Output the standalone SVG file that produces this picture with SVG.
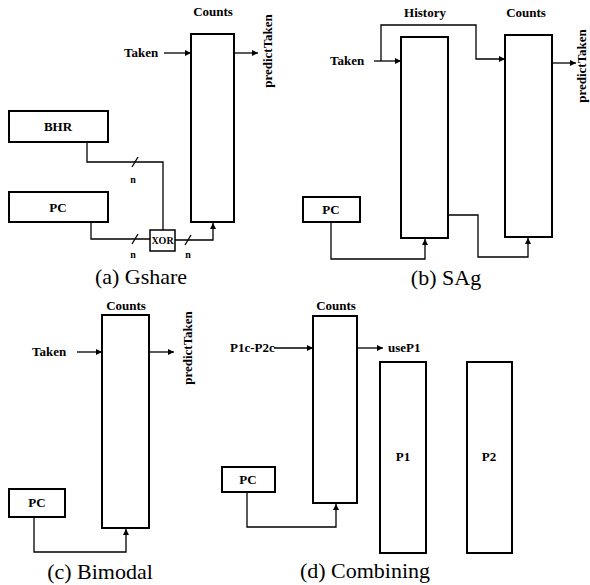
<svg xmlns="http://www.w3.org/2000/svg" width="590" height="585" viewBox="0 0 590 585">
<defs>
<marker id="ah" viewBox="0 0 10 10" refX="10" refY="5" markerWidth="8" markerHeight="6" markerUnits="userSpaceOnUse" orient="auto">
<path d="M0,0 L10,5 L0,10 Z" fill="#000"/>
</marker>
</defs>
<style>
.box{fill:#fff;stroke:#000;stroke-width:2}
.sbox{fill:#fff;stroke:#000;stroke-width:1.5}
.wire{fill:none;stroke:#000;stroke-width:1.3}
.arr{fill:none;stroke:#000;stroke-width:1.3;marker-end:url(#ah)}
.lbl{font-family:"Liberation Serif","Times New Roman",serif;font-weight:bold;font-size:13px;fill:#000}
.sm{font-family:"Liberation Serif","Times New Roman",serif;font-weight:bold;font-size:10px;fill:#000}
.cap{font-family:"Liberation Serif","Times New Roman",serif;font-size:22px;fill:#000}
</style>
<rect width="590" height="585" fill="#fff"/>

<!-- Panel (a) Gshare -->
<g id="a-counts">
<rect class="box" x="191" y="34" width="43" height="188"/>
<text class="lbl" x="213" y="16" text-anchor="middle">Counts</text>
</g>
<g id="a-bhr">
<rect class="box" x="9" y="111" width="99" height="31"/>
<text class="lbl" x="58" y="131" text-anchor="middle">BHR</text>
</g>
<g id="a-pc">
<rect class="box" x="9" y="192" width="99" height="30"/>
<text class="lbl" x="58" y="212" text-anchor="middle">PC</text>
</g>
<g id="a-xor">
<rect class="sbox" x="150" y="230" width="25" height="21"/>
<text class="sm" x="162.5" y="244" text-anchor="middle" font-size="9">XOR</text>
</g>
<g id="a-taken"><text class="lbl" x="124" y="57">Taken</text></g>
<g id="a-pred"><text class="lbl" transform="translate(272,51) rotate(-90)" text-anchor="middle">predictTaken</text></g>
<g id="a-caption"><text class="cap" x="141" y="284" text-anchor="middle">(a) Gshare</text></g>

<!-- Panel (b) SAg -->
<g id="b-history">
<rect class="box" x="401" y="37" width="47" height="201"/>
<text class="lbl" x="425" y="17" text-anchor="middle">History</text>
</g>
<g id="b-counts">
<rect class="box" x="505" y="35" width="47" height="202"/>
<text class="lbl" x="526" y="17" text-anchor="middle">Counts</text>
</g>
<g id="b-pc">
<rect class="box" x="303" y="197" width="57" height="25"/>
<text class="lbl" x="331" y="214" text-anchor="middle">PC</text>
</g>
<g id="b-taken"><text class="lbl" x="330" y="65">Taken</text></g>
<g id="b-pred"><text class="lbl" transform="translate(586,66) rotate(-90)" text-anchor="middle" font-size="12">predictTaken</text></g>
<g id="b-caption"><text class="cap" x="446" y="285" text-anchor="middle">(b) SAg</text></g>

<!-- Panel (c) Bimodal -->
<g id="c-counts">
<rect class="box" x="102" y="315" width="47" height="213"/>
<text class="lbl" x="126" y="310" text-anchor="middle">Counts</text>
</g>
<g id="c-pc">
<rect class="box" x="9" y="489" width="56" height="28"/>
<text class="lbl" x="37" y="507" text-anchor="middle">PC</text>
</g>
<g id="c-taken"><text class="lbl" x="32" y="356">Taken</text></g>
<g id="c-pred"><text class="lbl" transform="translate(192,348) rotate(-90)" text-anchor="middle">predictTaken</text></g>
<g id="c-caption"><text class="cap" x="100" y="579" text-anchor="middle">(c) Bimodal</text></g>

<!-- Panel (d) Combining -->
<g id="d-counts">
<rect class="box" x="313" y="316" width="44" height="187"/>
<text class="lbl" x="336" y="310" text-anchor="middle">Counts</text>
</g>
<g id="d-p1">
<rect class="box" x="380" y="362" width="46" height="191"/>
<text class="lbl" x="403" y="461" text-anchor="middle">P1</text>
</g>
<g id="d-p2">
<rect class="box" x="467" y="362" width="45" height="191"/>
<text class="lbl" x="489" y="461" text-anchor="middle">P2</text>
</g>
<g id="d-pc">
<rect class="box" x="222" y="467" width="53" height="25"/>
<text class="lbl" x="248" y="484" text-anchor="middle">PC</text>
</g>
<g id="d-in"><text class="lbl" x="230" y="352">P1c-P2c</text></g>
<g id="d-out"><text class="lbl" x="388" y="352">useP1</text></g>
<g id="d-caption"><text class="cap" x="365" y="578" text-anchor="middle">(d) Combining</text></g>

<!-- Connectors -->
<g id="connectors">
<!-- (a) -->
<line class="arr" x1="164" y1="53" x2="191" y2="53"/>
<line class="arr" x1="234" y1="53" x2="258" y2="53"/>
<polyline class="wire" points="87,142 87,162 163,162 163,230"/>
<polyline class="wire" points="91,222 91,239 150,239"/>
<polyline class="arr" points="175,240 213,240 213,223"/>
<line class="wire" x1="132" y1="167" x2="138" y2="157"/>
<line class="wire" x1="132" y1="244" x2="138" y2="234"/>
<line class="wire" x1="185" y1="245" x2="191" y2="235"/>
<text class="sm" x="133" y="183" text-anchor="middle">n</text>
<text class="sm" x="133" y="258" text-anchor="middle">n</text>
<text class="sm" x="188" y="258" text-anchor="middle">n</text>
<!-- (b) -->
<line class="arr" x1="374" y1="61" x2="401" y2="61"/>
<polyline class="arr" points="381,61 381,25 476,25 476,59 505,59"/>
<line class="arr" x1="552" y1="63" x2="576" y2="63"/>
<polyline class="arr" points="331,222 331,259 425,259 425,239"/>
<polyline class="arr" points="448,215 478,215 478,257 528,257 528,238"/>
<!-- (c) -->
<line class="arr" x1="77" y1="352" x2="102" y2="352"/>
<line class="arr" x1="149" y1="352" x2="174" y2="352"/>
<polyline class="arr" points="34,517 34,552 126,552 126,529"/>
<!-- (d) -->
<line class="arr" x1="274" y1="348" x2="313" y2="348"/>
<line class="arr" x1="357" y1="348" x2="383" y2="348"/>
<polyline class="arr" points="247,492 247,527 336,527 336,504"/>
</g>
</svg>
